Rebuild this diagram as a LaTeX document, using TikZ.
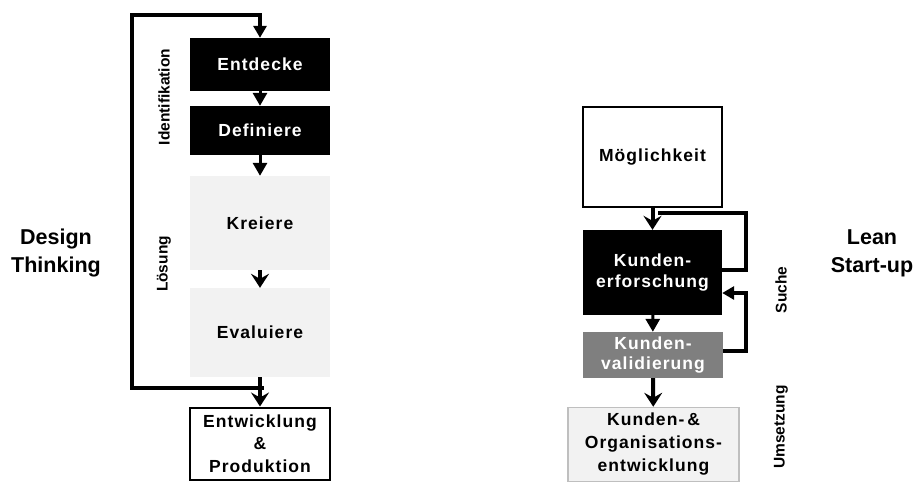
\documentclass[tikz,border=0pt]{standalone}
\usepackage{fontspec}
\setmainfont{Liberation Sans}
\newfontfamily\boxfont[LetterSpace=6]{Liberation Sans}
\usetikzlibrary{arrows.meta}
\definecolor{lightfill}{HTML}{F2F2F2}
\definecolor{midgray}{HTML}{7F7F7F}
\definecolor{bordergray}{HTML}{BFBFBF}
\tikzset{
  boxbase/.style={inner sep=0pt, minimum width=140pt, align=center,
    font=\boxfont\bfseries\fontsize{17.5}{22}\selectfont},
  blackbox/.style={boxbase, fill=black, text=white},
  lightbox/.style={boxbase, fill=lightfill, text=black},
  whitebox/.style={boxbase, fill=white, draw=black, line width=2pt, text=black},
  graybox/.style={boxbase, fill=midgray, text=white},
  lightborder/.style={boxbase, fill=lightfill, draw=bordergray, line width=1.5pt, text=black},
  tri/.style={line width=3pt, -{Triangle[length=13pt,width=14pt]}},
  stl/.style={line width=4pt, -{Stealth[length=14pt,width=18pt,inset=5pt]}},
  loopline/.style={line width=4pt},
  sidelabel/.style={inner sep=0pt, align=center, font=\bfseries\fontsize{21.5}{28}\selectfont},
  rotlabel/.style={inner sep=0pt, rotate=90, font=\bfseries\fontsize{15.5}{18}\selectfont}
}
\begin{document}
\begin{tikzpicture}[x=1pt,y=-1pt]
\useasboundingbox (0,0) rectangle (914,482);

% Design Thinking
\node[blackbox, minimum height=53pt] (ent) at (260,64.5) {Entdecke};
\node[blackbox, minimum height=49pt] (def) at (260,130.5) {Definiere};
\node[lightbox, minimum height=94pt] (kre) at (260,223) {Kreiere};
\node[lightbox, minimum height=89pt] (eva) at (260,332.5) {Evaluiere};
\node[whitebox, minimum height=72pt, font=\boxfont\bfseries\fontsize{17.5}{22.5}\selectfont] (ewp) at (260,443.5) {Entwicklung\\\&\\Produktion};

\draw[tri] (ent) -- (def);
\draw[tri] (def) -- (kre);
\draw[stl] (kre) -- (eva);
\draw[stl] (eva) -- (ewp);

\coordinate (lj) at (262,388);
\coordinate (lc) at (132,14.5);
\draw[loopline, line cap=rect] (lj) -| (lc);
\draw[loopline, -{Triangle[length=12pt,width=13pt]}] (lc) -| (ent.north);

\node[sidelabel] (dt) at (56,253) {Design\\Thinking};
\node[rotlabel] (idl) at (164,97) {Identifikation};
\node[rotlabel] (lol) at (164,264) {Lösung};

% Lean Start-up
\node[whitebox, minimum width=139pt, minimum height=100pt] (moe) at (652.5,157) {Möglichkeit};
\node[blackbox, minimum width=139pt, minimum height=85pt, font=\boxfont\bfseries\fontsize{17.5}{21}\selectfont] (kef) at (652.5,272.5) {Kunden-\\erforschung};
\node[graybox, minimum width=140pt, minimum height=46pt, font=\boxfont\bfseries\fontsize{17.5}{20}\selectfont] (kva) at (653,355) {Kunden-\\validierung};
\node[lightborder, minimum width=171pt, minimum height=74pt, font=\boxfont\bfseries\fontsize{17.5}{23}\selectfont] (kor) at (653.5,444.5) {Kunden-\,\&\\Organisations-\\entwicklung};

\draw[stl] (moe) -- (kef);
\coordinate (mj) at (658,213);
\coordinate (rc1) at (746,213);
\draw[loopline] ([yshift=2.5pt]kef.east) -| (rc1) -- (mj);

\draw[tri] (kef) -- (kva);
\coordinate (rc2) at (746,293);
\draw[loopline, -{Triangle[length=12pt,width=13pt]}] ([yshift=4pt]kva.east) -| (rc2) -- (kef.east |- rc2);
\draw[stl] (kva) -- (kor);

\node[sidelabel] (ls) at (872,253) {Lean\\Start-up};
\node[rotlabel] (sul) at (781,290) {Suche};
\node[rotlabel] (uml) at (781,427) {Umsetzung};
\end{tikzpicture}
\end{document}
